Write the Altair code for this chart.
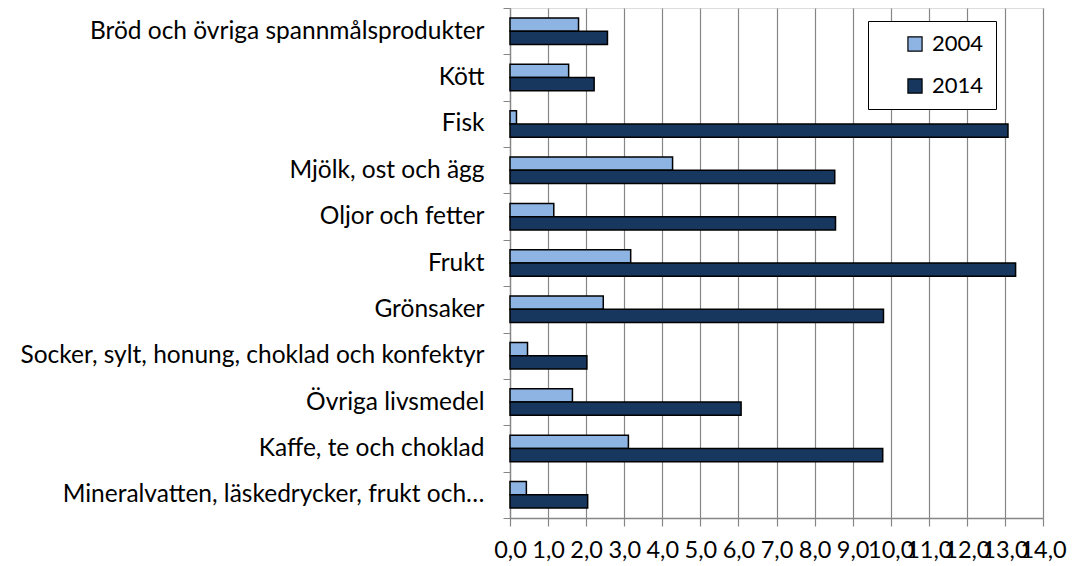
import altair as alt
import pandas as pd

categories = [
    "Bröd och övriga spannmålsprodukter",
    "Kött",
    "Fisk",
    "Mjölk, ost och ägg",
    "Oljor och fetter",
    "Frukt",
    "Grönsaker",
    "Socker, sylt, honung, choklad och konfektyr",
    "Övriga livsmedel",
    "Kaffe, te och choklad",
    "Mineralvatten, läskedrycker, frukt och…",
]
years = ["2004", "2014"]
values_2004 = [1.80, 1.54, 0.17, 4.27, 1.15, 3.17, 2.45, 0.46, 1.64, 3.11, 0.43]
values_2014 = [2.56, 2.21, 13.08, 8.53, 8.55, 13.28, 9.81, 2.02, 6.07, 9.79, 2.04]
x_ticks = list(range(0, 15))
colors = ["#8EB4E3", "#17375E"]

rows = []
for c, a, b in zip(categories, values_2004, values_2014):
    rows.append({"kategori": c, "år": years[0], "värde": a})
    rows.append({"kategori": c, "år": years[1], "värde": b})
df = pd.DataFrame(rows)

FONT = "Lato"
GRAY = "#868686"

chart = (
    alt.Chart(df)
    .mark_bar(stroke="black", strokeWidth=1.5)
    .encode(
        y=alt.Y(
            "kategori:N",
            sort=categories,
            scale=alt.Scale(paddingInner=0, paddingOuter=0),
            axis=alt.Axis(
                title=None,
                tickBand="extent",
                tickSize=7,
                tickColor=GRAY,
                domainColor=GRAY,
                domainWidth=1.3,
                labelPadding=19,
                labelLimit=1000,
                labelFontSize=24.5,
                labelFont=FONT,
                labelColor="black",
                grid=False,
            ),
        ),
        yOffset=alt.YOffset(
            "år:N", sort=years, scale=alt.Scale(paddingInner=0, paddingOuter=0.75)
        ),
        x=alt.X(
            "värde:Q",
            scale=alt.Scale(domain=[0, 14], nice=False),
            axis=alt.Axis(
                title=None,
                values=x_ticks,
                labelExpr="replace(format(datum.value, '.1f'), '.', ',')",
                labelOverlap=False,
                labelFlush=False,
                labelBound=False,
                tickSize=8,
                tickColor=GRAY,
                tickWidth=1.2,
                domainColor=GRAY,
                domainWidth=1.3,
                gridColor=GRAY,
                gridWidth=1.2,
                labelPadding=12,
                labelFontSize=23.5,
                labelFont=FONT,
                labelColor="black",
            ),
        ),
        fill=alt.Fill(
            "år:N",
            scale=alt.Scale(domain=years, range=colors),
            legend=alt.Legend(
                title=None,
                orient="none",
                legendX=358,
                legendY=13,
                fillColor="white",
                strokeColor="black",
                padding=12,
                symbolType="square",
                symbolSize=200,
                symbolStrokeColor="black",
                symbolStrokeWidth=1.2,
                symbolOffset=24,
                labelOffset=6,
                labelFontSize=22,
                labelFont=FONT,
                labelColor="black",
                rowPadding=20,
                labelExpr="datum.label + '\u00a0\u00a0\u00a0\u00a0\u00a0\u00a0\u00a0'",
            ),
        ),
    )
    .properties(
        width=533,
        height=510,
        autosize=alt.AutoSizeParams(type="none"),
        padding={"left": 502, "top": 0, "right": 30, "bottom": 46},
    )
    .configure_view(stroke=GRAY, strokeWidth=1.3)
    .configure(background="white")
)

chart.save("out.html", embed_options={"renderer": "svg", "actions": False})
